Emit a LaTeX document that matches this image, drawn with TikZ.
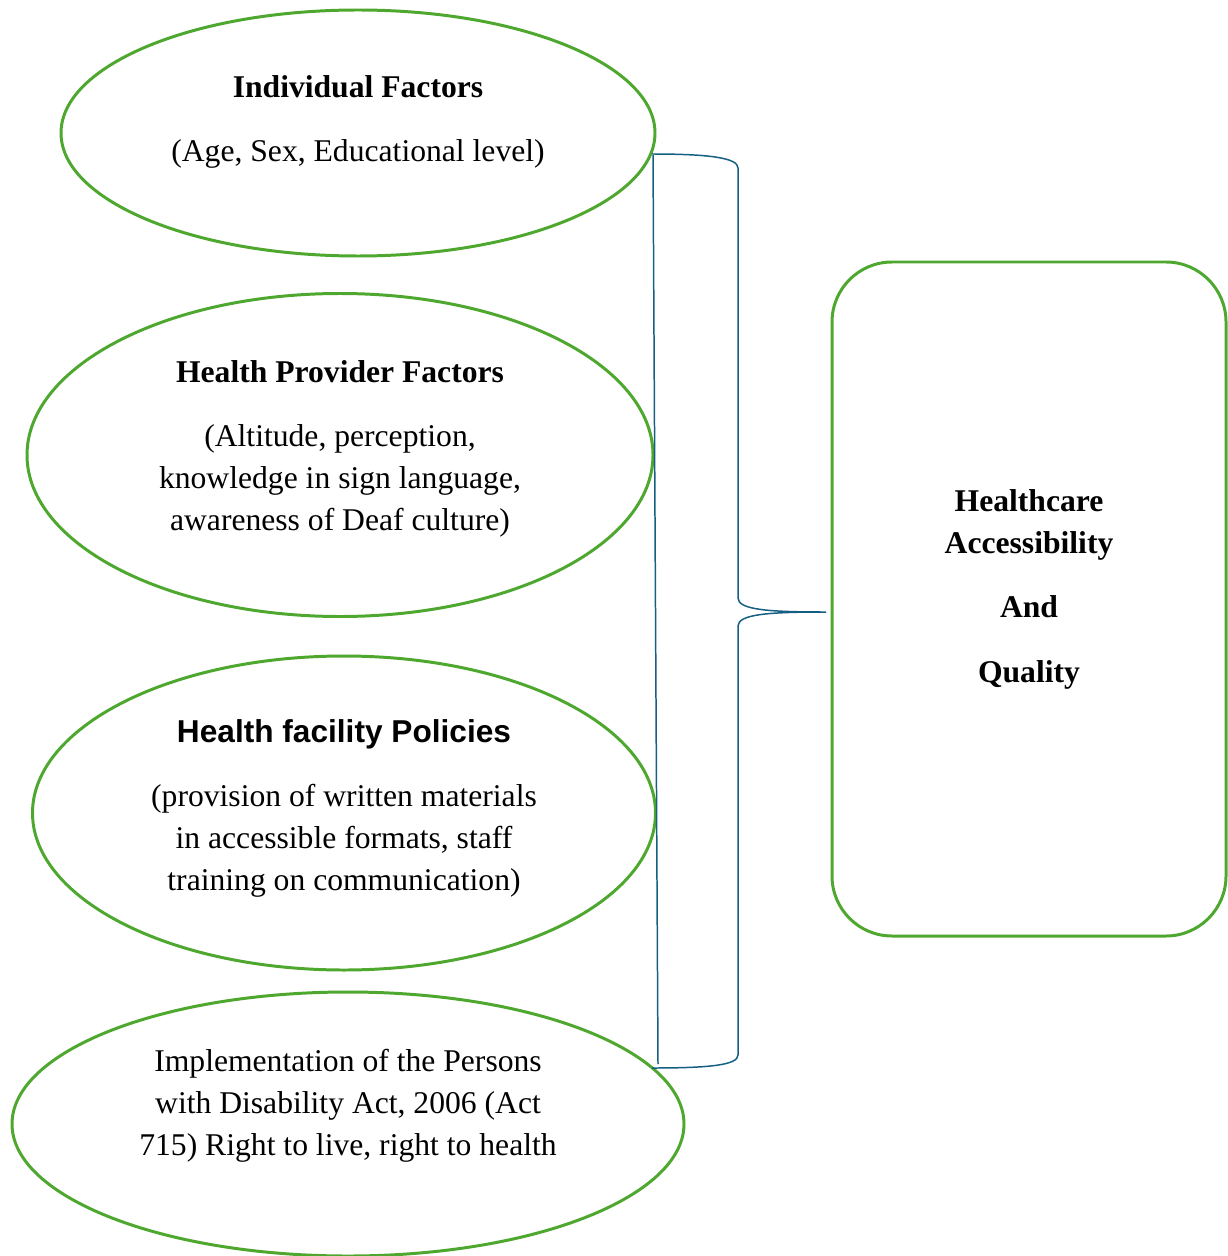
\documentclass[tikz,border=0pt]{standalone}
\usepackage{fontspec}
\setmainfont{Liberation Serif}
\newfontfamily\arialfont{Liberation Sans}
\usetikzlibrary{shapes.geometric}
\usetikzlibrary{positioning}
\definecolor{factorgreen}{HTML}{4EA72E}
\definecolor{braceblue}{HTML}{156082}
\tikzset{factor/.style={draw=factorgreen,line width=1.7pt,ellipse,outer sep=0pt,inner sep=0pt}}
\tikzset{outcome/.style={draw=factorgreen,line width=1.7pt,rectangle,rounded corners=1.2cm,outer sep=0pt,inner sep=0pt}}
\tikzset{heading/.style={anchor=base,align=center,font=\fontsize{18}{23.8}\selectfont\bfseries}}
\tikzset{detail/.style={anchor=base,align=center,font=\fontsize{18}{23.8}\selectfont}}
\tikzset{brace/.style={draw=braceblue,line width=0.85pt}}

\begin{document}
\begin{tikzpicture}
        \useasboundingbox (0,0) rectangle (24.54,-25.12);

        \node[factor,minimum width=11.88cm,minimum height=4.92cm] (indiv) at (7.16,-2.66) {};
        \node[factor,minimum width=12.52cm,minimum height=6.46cm] (provider) at (6.80,-9.10) {};
        \node[factor,minimum width=12.46cm,minimum height=6.28cm] (facility) at (6.88,-16.26) {};
        \node[factor,minimum width=13.44cm,minimum height=5.28cm] (act) at (6.96,-22.48) {};
        \node[outcome,minimum width=7.88cm,minimum height=13.48cm] (access) at (20.58,-11.98) {};

        % multi-line texts sit on the baseline of their last line
        \node[heading] (indivhead) at (7.16,-1.96) {Individual Factors};
        \node[detail] (indivtext) at (7.16,-3.24) {(Age, Sex, Educational level)};

        \node[heading] (providerhead) at (6.80,-7.64) {Health Provider Factors};
        \node[detail] (providertext) at (6.80,-10.60)
            {(Altitude, perception,\\ knowledge in sign language,\\ awareness of Deaf culture)};

        \node[heading,font=\fontsize{18}{23.8}\selectfont\arialfont\bfseries] (facilityhead) at (6.88,-14.84)
            {Health facility Policies};
        \node[detail] (facilitytext) at (6.88,-17.80)
            {(provision of written materials\\ in accessible formats, staff\\ training on communication)};

        \node[detail] (acttext) at (6.96,-23.10)
            {Implementation of the Persons\\ with Disability Act, 2006 (Act\\ 715) Right to live, right to health};

        \node[heading] (accesshead) at (20.58,-11.06) {Healthcare\\ Accessibility};
        \node[heading] (accessand) at (20.58,-12.34) {And};
        \node[heading] (accessquality) at (20.58,-13.64) {Quality};

        % brace joining the factors to the outcome
        \coordinate (linetop) at (13.06,-3.10);
        \coordinate (linebot) at (13.16,-21.28);
        \coordinate (bracetop) at (13.04,-3.08);
        \coordinate (bracetip) at (16.52,-12.24);
        \coordinate (bracebot) at (13.04,-21.36);

        \draw[brace] (linetop) -- (linebot);
        \draw[brace] (bracetop) .. controls (14.2,-3.08) and (14.76,-3.16) .. (14.76,-3.36)
            -- (14.76,-11.96) .. controls (14.76,-12.2) and (15.4,-12.24) .. (bracetip)
            .. controls (15.4,-12.24) and (14.76,-12.28) .. (14.76,-12.52)
            -- (14.76,-21.10) .. controls (14.76,-21.30) and (14.2,-21.36) .. (bracebot);
    \end{tikzpicture}
\end{document}
